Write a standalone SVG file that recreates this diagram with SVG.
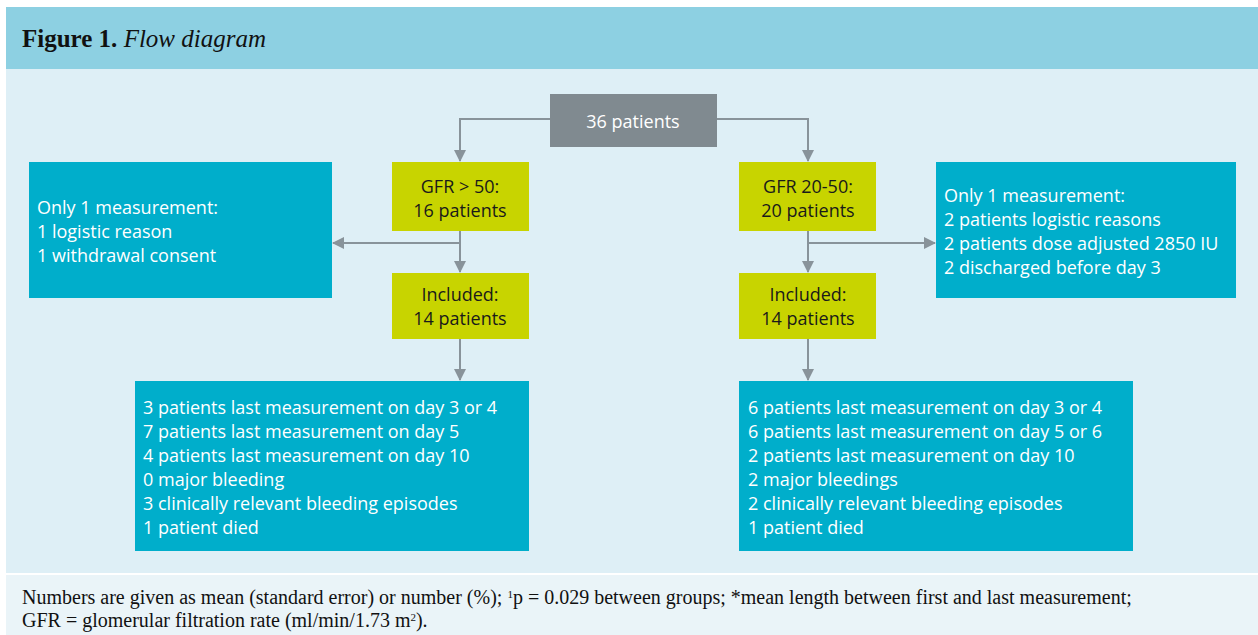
<svg xmlns="http://www.w3.org/2000/svg" width="1258" height="635" viewBox="0 0 1258 635">
<style>
.bg{fill:#deeff6}
.hdr{fill:#8dd0e2}
.ftr{fill:#eaf4f8}
.grey{fill:#808a90}
.yel{fill:#c8d400}
.cyan{fill:#00aecb}
.t{font-family:"Open Sans","Noto Sans",sans-serif;font-size:18px}
.w{fill:#ffffff}
.k{fill:#1a1a1a}
.c{text-anchor:middle}
.conn{stroke:#88939a;stroke-width:2;fill:none}
.serif{font-family:"Liberation Serif","Times New Roman",serif;fill:#111}
</style>
<defs>
<marker id="ah" markerWidth="12" markerHeight="12" viewBox="0 0 12 12" refX="11" refY="6" orient="auto" markerUnits="userSpaceOnUse">
<path d="M0,0 L12,6 L0,12 Z" fill="#88939a"/>
</marker>
</defs>
<rect x="0" y="0" width="1258" height="635" fill="#ffffff"/>
<rect class="hdr" x="6" y="7" width="1252" height="62"/>
<rect class="bg" x="6" y="69" width="1252" height="504"/>
<rect class="ftr" x="6" y="575" width="1252" height="60"/>
<text class="serif" x="22" y="47" font-size="25"><tspan font-weight="bold">Figure 1.</tspan> <tspan font-style="italic">Flow diagram</tspan></text>

<g id="connectors">
<path class="conn" d="M550,119 H460 V161" marker-end="url(#ah)"/>
<path class="conn" d="M717,119 H808 V161" marker-end="url(#ah)"/>
<path class="conn" d="M460,231 V272" marker-end="url(#ah)"/>
<path class="conn" d="M460,243 H333" marker-end="url(#ah)"/>
<path class="conn" d="M808,231 V272" marker-end="url(#ah)"/>
<path class="conn" d="M808,243 H935" marker-end="url(#ah)"/>
<path class="conn" d="M460,339 V380" marker-end="url(#ah)"/>
<path class="conn" d="M808,339 V380" marker-end="url(#ah)"/>
</g>

<g id="n-start">
<rect class="grey" x="550" y="94" width="167" height="53"/>
<text class="t w c" x="633" y="128">36 patients</text>
</g>
<g id="n-gfr50">
<rect class="yel" x="392" y="162" width="137" height="69"/>
<text class="t k c" x="460" y="193">GFR &gt; 50:</text>
<text class="t k c" x="460" y="217">16 patients</text>
</g>
<g id="n-gfr2050">
<rect class="yel" x="739" y="162" width="137" height="69"/>
<text class="t k c" x="808" y="193">GFR 20-50:</text>
<text class="t k c" x="808" y="217">20 patients</text>
</g>
<g id="n-excl-left">
<rect class="cyan" x="29" y="162" width="303" height="136"/>
<text class="t w" x="37" y="214">Only 1 measurement:</text>
<text class="t w" x="37" y="238">1 logistic reason</text>
<text class="t w" x="37" y="262">1 withdrawal consent</text>
</g>
<g id="n-excl-right">
<rect class="cyan" x="936" y="162" width="300" height="136"/>
<text class="t w" x="944" y="202">Only 1 measurement:</text>
<text class="t w" x="944" y="226">2 patients logistic reasons</text>
<text class="t w" x="944" y="250">2 patients dose adjusted 2850 IU</text>
<text class="t w" x="944" y="274">2 discharged before day 3</text>
</g>
<g id="n-incl-left">
<rect class="yel" x="392" y="273" width="137" height="66"/>
<text class="t k c" x="460" y="301">Included:</text>
<text class="t k c" x="460" y="325">14 patients</text>
</g>
<g id="n-incl-right">
<rect class="yel" x="739" y="273" width="137" height="66"/>
<text class="t k c" x="808" y="301">Included:</text>
<text class="t k c" x="808" y="325">14 patients</text>
</g>
<g id="n-out-left">
<rect class="cyan" x="135" y="381" width="394" height="170"/>
<text class="t w" x="143" y="414">3 patients last measurement on day 3 or 4</text>
<text class="t w" x="143" y="438">7 patients last measurement on day 5</text>
<text class="t w" x="143" y="462">4 patients last measurement on day 10</text>
<text class="t w" x="143" y="486">0 major bleeding</text>
<text class="t w" x="143" y="510">3 clinically relevant bleeding episodes</text>
<text class="t w" x="143" y="534">1 patient died</text>
</g>
<g id="n-out-right">
<rect class="cyan" x="739" y="381" width="394" height="170"/>
<text class="t w" x="748" y="414">6 patients last measurement on day 3 or 4</text>
<text class="t w" x="748" y="438">6 patients last measurement on day 5 or 6</text>
<text class="t w" x="748" y="462">2 patients last measurement on day 10</text>
<text class="t w" x="748" y="486">2 major bleedings</text>
<text class="t w" x="748" y="510">2 clinically relevant bleeding episodes</text>
<text class="t w" x="748" y="534">1 patient died</text>
</g>

<text class="serif" x="22" y="604" font-size="20">Numbers are given as mean (standard error) or number (%); <tspan font-size="11" dy="-6">1</tspan><tspan dy="6">p = 0.029 between groups; *mean length between first and last measurement;</tspan></text>
<text class="serif" x="22" y="627" font-size="20">GFR = glomerular filtration rate (ml/min/1.73 m<tspan font-size="11" dy="-6">2</tspan><tspan dy="6">).</tspan></text>
</svg>
